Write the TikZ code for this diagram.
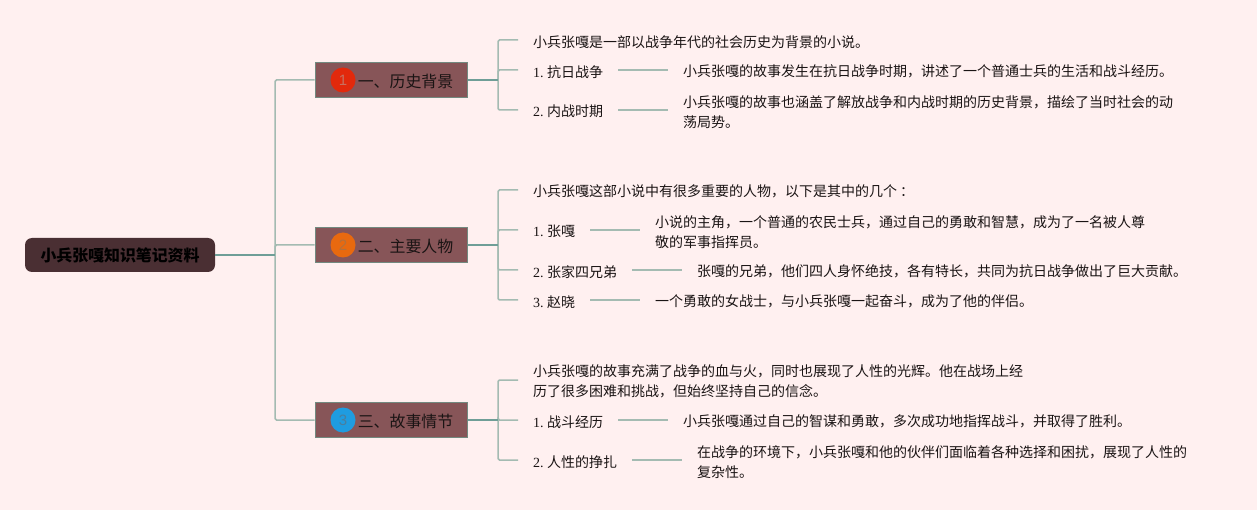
\documentclass[tikz,border=0pt]{standalone}
\usepackage{fontspec}
\setmainfont{Noto Sans CJK SC}
\newfontfamily\lat{Liberation Serif}
\newfontfamily\badgefont{Liberation Sans}
\newcommand{\numlabel}[1]{{\lat #1. }\kern-1.2pt}
\definecolor{bgc}{HTML}{FFF0F0}
\definecolor{rootc}{HTML}{4A2F33}
\definecolor{boxc}{HTML}{875558}
\definecolor{boxl}{HTML}{728A80}
\definecolor{thinl}{HTML}{A4BBB2}
\definecolor{thickl}{HTML}{6F9E97}
\definecolor{txt}{HTML}{1A1414}
\definecolor{badgered}{HTML}{E2290C}
\definecolor{badgeorange}{HTML}{E8690F}
\definecolor{badgeblue}{HTML}{1F9CE0}
\definecolor{numred}{HTML}{C8705F}
\definecolor{numorange}{HTML}{B5703A}
\definecolor{numblue}{HTML}{4A7F9E}
\tikzset{
 x=1pt,y=-1pt,
 rootbox/.style={draw=none,fill=rootc,rounded corners=7pt,minimum width=190pt,minimum height=34pt,inner sep=0pt,font=\fontsize{15.9}{18}\selectfont\bfseries,text=black},
 topic/.style={draw=boxl,line width=1pt,fill=boxc,minimum width=152.6pt,minimum height=34.6pt,inner sep=0pt},
 badge/.style={circle,minimum size=25pt,inner sep=0pt,font=\fontsize{15}{15}\selectfont\badgefont},
 topiclabel/.style={font=\fontsize{15.9}{18}\selectfont,text=txt},
 item/.style={anchor=west,inner xsep=15pt,inner ysep=0pt,align=left,font=\fontsize{14}{20}\selectfont,text=txt},
 thinline/.style={draw=thinl,line width=1.5pt,rounded corners=1.5pt},
 thickline/.style={draw=thickl,line width=2pt},
}
\begin{document}
\begin{tikzpicture}
\path[use as bounding box,fill=bgc] (0,0) rectangle (1257,510);
% root and topics
\node[rootbox] (root) at (120,255) {小兵张嘎知识笔记资料};
\node[topic] (t1) at (391.5,80) {};
\node[topic] (t2) at (391.5,245) {};
\node[topic] (t3) at (391.5,420) {};
\node[badge,fill=badgered,text=numred] (c1) at (343,80) {1};
\node[badge,fill=badgeorange,text=numorange] (c2) at (343,245) {2};
\node[badge,fill=badgeblue,text=numblue] (c3) at (343,420) {3};
\node[topiclabel] (l1) at (405.5,81) {一、历史背景};
\node[topiclabel] (l2) at (405.5,246) {二、主要人物};
\node[topiclabel] (l3) at (405.5,421) {三、故事情节};
% junctions
\coordinate (jr) at (275,255);
\coordinate (j1) at (498,80);
\coordinate (j2) at (498,245);
\coordinate (j3) at (498,420);
% section 1
\node[item] (a0) at (518,41.7) {小兵张嘎是一部以战争年代的社会历史为背景的小说。};
\node[item] (a1) at (518,71.7) {\numlabel{1}抗日战争};
\node[item] (a2) at (518,111.7) {\numlabel{2}内战时期};
\node[item] (a1x) at (668,71.7) {小兵张嘎的故事发生在抗日战争时期，讲述了一个普通士兵的生活和战斗经历。};
\node[item] (a2x) at (668,111.7) {小兵张嘎的故事也涵盖了解放战争和内战时期的历史背景，描绘了当时社会的动\\荡局势。};
% section 2
\node[item] (b0) at (518,191.7) {小兵张嘎这部小说中有很多重要的人物，以下是其中的几个\kern3pt：};
\node[item] (b1) at (518,231.7) {\numlabel{1}张嘎};
\node[item] (b2) at (518,271.7) {\numlabel{2}张家四兄弟};
\node[item] (b3) at (518,301.7) {\numlabel{3}赵晓};
\node[item] (b1x) at (640,231.7) {小说的主角，一个普通的农民士兵，通过自己的勇敢和智慧，成为了一名被人尊\\敬的军事指挥员。};
\node[item] (b2x) at (682,271.7) {张嘎的兄弟，他们四人身怀绝技，各有特长，共同为抗日战争做出了巨大贡献。};
\node[item] (b3x) at (640,301.7) {一个勇敢的女战士，与小兵张嘎一起奋斗，成为了他的伴侣。};
% section 3
\node[item] (c0) at (518,381.7) {小兵张嘎的故事充满了战争的血与火，同时也展现了人性的光辉。他在战场上经\\历了很多困难和挑战，但始终坚持自己的信念。};
\node[item] (c1t) at (518,421.7) {\numlabel{1}战斗经历};
\node[item] (c2t) at (518,461.7) {\numlabel{2}人性的挣扎};
\node[item] (c1x) at (668,421.7) {小兵张嘎通过自己的智谋和勇敢，多次成功地指挥战斗，并取得了胜利。};
\node[item] (c2x) at (682,461.7) {在战争的环境下，小兵张嘎和他的伙伴们面临着各种选择和困扰，展现了人性的\\复杂性。};
% trunk
\draw[thinline] (jr) |- (t1.west);
\draw[thinline] (jr) |- (t2.west);
\draw[thinline] (jr) |- (t3.west);
\draw[thickline] (root.east) -- (jr);
% branches
\foreach \j/\n in {j1/a0,j1/a1,j1/a2,j2/b0,j2/b1,j2/b2,j2/b3,j3/c0,j3/c1t,j3/c2t}
  \draw[thinline] (\j) |- ([yshift=1.7pt]\n.west);
\draw[thickline] (t1.east) -- (j1);
\draw[thickline] (t2.east) -- (j2);
\draw[thickline] (t3.east) -- (j3);
% leaf links
\foreach \a/\b in {a1/a1x,a2/a2x,b1/b1x,b2/b2x,b3/b3x,c1t/c1x,c2t/c2x}
  \draw[thinline] ([yshift=1.7pt]\a.east) -- ([yshift=1.7pt]\b.west);
\end{tikzpicture}
\end{document}
